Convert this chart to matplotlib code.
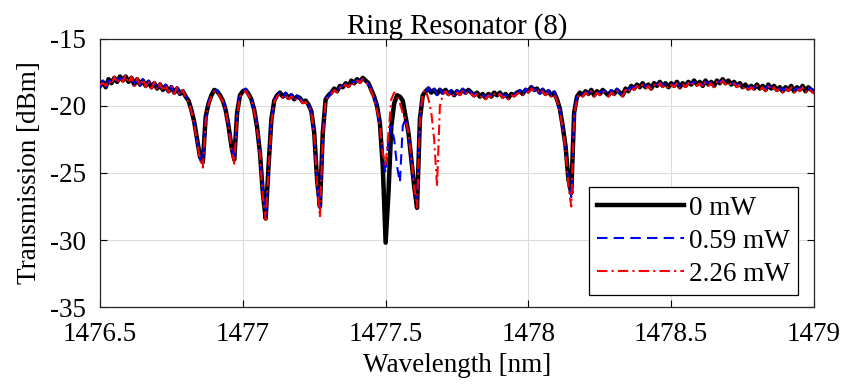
import numpy as np
import matplotlib
matplotlib.use("Agg")
from matplotlib import pyplot as plt

# wavelength grid, 0.01 nm steps
wl = np.round(np.arange(1476.50, 1479.001, 0.01), 2)

# 0 mW
p0 = [
    -18.5, -18.2, -18.6, -18.0, -18.3, -17.9, -18.2, -17.8, -18.1, -17.8,
    -18.2, -17.9, -18.4, -18.0, -18.4, -18.1, -18.5, -18.2, -18.6, -18.3,
    -18.7, -18.4, -18.8, -18.5, -18.9, -18.6, -19.0, -18.7, -19.1, -18.9,
    -19.3, -19.6, -20.3, -21.2, -22.5, -23.8, -24.2, -20.8, -19.8, -19.2,
    -18.8, -18.9, -19.2, -19.6, -20.3, -21.5, -23.0, -24.0, -20.5, -19.2,
    -18.9, -18.8, -19.1, -19.5, -20.3, -21.6, -23.5, -26.5, -28.4, -24.5,
    -21.0, -19.6, -19.2, -19.0, -19.3, -19.1, -19.4, -19.2, -19.5, -19.3,
    -19.4, -19.7, -19.6, -19.9, -20.4, -22.0, -25.5, -27.5, -22.0, -19.5,
    -19.2, -19.0, -18.7, -18.9, -18.5, -18.6, -18.3, -18.5, -18.1, -18.3,
    -18.0, -18.2, -17.9, -18.1, -18.3, -18.8, -19.3, -20.0, -21.3, -24.5,
    -30.2, -26.5, -21.5, -19.8, -19.2, -19.3, -19.6, -20.8, -22.0, -24.0,
    -26.0, -27.6, -21.0, -19.2, -18.9, -18.7, -19.0, -18.8, -19.1, -18.8,
    -19.0, -18.8, -19.1, -18.9, -19.2, -18.9, -19.1, -18.8, -19.0, -18.8,
    -19.0, -19.2, -19.0, -19.3, -19.1, -19.4, -19.1, -19.3, -19.0, -19.2,
    -19.0, -19.3, -19.1, -19.4, -19.1, -19.2, -19.0, -18.9, -19.1, -18.8,
    -18.9, -18.6, -18.8, -18.7, -19.0, -18.8, -19.1, -18.9, -19.2, -19.0,
    -19.5, -20.2, -21.5, -23.0, -25.5, -26.5, -20.5, -19.3, -19.0, -19.2,
    -18.9, -19.1, -18.8, -19.2, -18.9, -19.1, -18.8, -19.0, -19.2, -18.9,
    -19.1, -18.8, -19.0, -19.2, -18.7, -18.9, -18.5, -18.7, -18.4, -18.6,
    -18.3, -18.6, -18.4, -18.7, -18.3, -18.5, -18.2, -18.5, -18.3, -18.6,
    -18.3, -18.5, -18.2, -18.6, -18.3, -18.5, -18.2, -18.4, -18.1, -18.4,
    -18.2, -18.5, -18.1, -18.4, -18.2, -18.5, -18.1, -18.3, -18.0, -18.3,
    -18.1, -18.4, -18.2, -18.5, -18.3, -18.6, -18.4, -18.7, -18.5, -18.7,
    -18.4, -18.7, -18.5, -18.8, -18.4, -18.7, -18.5, -18.8, -18.6, -18.9,
    -18.6, -18.8, -18.5, -18.9, -18.6, -18.8, -18.5, -18.9, -18.6, -18.8,
    -18.9,
]

# 0.59 mW
p059 = [
    -18.6, -18.1, -18.7, -18.1, -18.2, -18.0, -18.1, -17.9, -18.0, -17.9,
    -18.1, -18.0, -18.3, -18.1, -18.5, -18.0, -18.6, -18.1, -18.7, -18.2,
    -18.8, -18.3, -18.9, -18.4, -19.0, -18.5, -19.1, -18.6, -19.2, -18.8,
    -19.3, -19.7, -20.4, -21.3, -22.6, -23.9, -24.3, -20.9, -19.7, -19.1,
    -18.9, -18.8, -19.3, -19.5, -20.4, -21.4, -23.1, -24.1, -20.4, -19.1,
    -19.0, -18.7, -19.2, -19.4, -20.4, -21.5, -23.6, -26.4, -28.2, -24.6,
    -21.1, -19.5, -19.3, -18.9, -19.4, -19.0, -19.5, -19.1, -19.6, -19.2,
    -19.5, -19.6, -19.7, -19.8, -20.5, -22.1, -25.6, -27.7, -22.1, -19.4,
    -19.3, -18.9, -18.8, -18.8, -18.6, -18.5, -18.4, -18.4, -18.2, -18.2,
    -18.1, -18.1, -18.0, -18.0, -18.4, -18.7, -19.4, -20.1, -21.5, -24.0,
    -25.0, -22.5, -21.5, -22.5, -24.5, -25.7, -21.5, -20.9, -22.1, -24.1,
    -26.1, -27.4, -21.1, -19.1, -19.0, -18.6, -19.1, -18.7, -19.2, -18.7,
    -19.1, -18.7, -19.2, -18.8, -19.3, -18.8, -19.2, -18.7, -19.1, -18.7,
    -19.1, -19.1, -19.1, -19.2, -19.2, -19.3, -19.2, -19.2, -19.1, -19.1,
    -19.1, -19.2, -19.2, -19.3, -19.2, -19.1, -19.1, -18.8, -19.2, -18.7,
    -19.0, -18.5, -18.9, -18.6, -19.1, -18.7, -19.2, -18.8, -19.3, -18.9,
    -19.6, -20.3, -21.6, -23.1, -25.6, -26.8, -20.6, -19.2, -19.1, -19.1,
    -19.0, -19.0, -18.9, -19.1, -19.0, -19.0, -18.9, -18.9, -19.3, -18.8,
    -19.2, -18.7, -19.1, -19.1, -18.8, -18.8, -18.6, -18.6, -18.5, -18.5,
    -18.4, -18.5, -18.5, -18.6, -18.4, -18.4, -18.3, -18.4, -18.4, -18.5,
    -18.4, -18.4, -18.3, -18.5, -18.4, -18.4, -18.3, -18.3, -18.2, -18.3,
    -18.3, -18.4, -18.2, -18.3, -18.3, -18.4, -18.2, -18.2, -18.1, -18.2,
    -18.2, -18.3, -18.3, -18.4, -18.4, -18.5, -18.5, -18.6, -18.6, -18.6,
    -18.5, -18.6, -18.6, -18.7, -18.5, -18.6, -18.6, -18.7, -18.7, -18.8,
    -18.7, -18.7, -18.6, -18.8, -18.7, -18.7, -18.6, -18.8, -18.7, -18.7,
    -19.0,
]

# 2.26 mW
p226 = [
    -18.4, -18.3, -18.5, -18.1, -18.4, -17.8, -18.3, -17.9, -18.2, -17.7,
    -18.3, -17.8, -18.5, -17.9, -18.5, -18.0, -18.6, -18.1, -18.7, -18.2,
    -18.8, -18.3, -18.9, -18.4, -19.0, -18.5, -19.1, -18.6, -19.2, -18.8,
    -19.4, -19.7, -20.4, -21.4, -22.7, -24.0, -24.6, -21.0, -19.9, -19.3,
    -18.9, -19.0, -19.3, -19.7, -20.4, -21.6, -23.2, -24.3, -20.7, -19.3,
    -19.0, -18.9, -19.2, -19.6, -20.4, -21.7, -23.7, -26.8, -28.5, -24.8,
    -21.2, -19.7, -19.3, -19.1, -19.4, -19.2, -19.5, -19.3, -19.6, -19.4,
    -19.5, -19.8, -19.7, -20.0, -20.5, -22.2, -25.8, -28.3, -22.3, -19.6,
    -19.3, -19.1, -18.8, -19.0, -18.6, -18.7, -18.4, -18.6, -18.2, -18.4,
    -18.1, -18.3, -18.0, -18.2, -18.4, -18.9, -19.5, -20.3, -21.5, -23.5,
    -24.5, -22.0, -19.5, -19.0, -19.3, -19.8, -20.5, -21.0, -22.0, -24.0,
    -26.0, -27.6, -21.0, -19.0, -18.8, -19.5, -20.5, -22.5, -26.0, -20.0,
    -19.2, -18.9, -19.2, -19.0, -19.3, -19.0, -19.2, -18.9, -19.1, -18.9,
    -19.1, -19.3, -19.1, -19.4, -19.2, -19.5, -19.2, -19.4, -19.1, -19.3,
    -19.1, -19.4, -19.2, -19.5, -19.2, -19.3, -19.1, -19.0, -19.2, -18.9,
    -19.0, -18.7, -18.9, -18.8, -19.1, -18.9, -19.2, -19.0, -19.3, -19.1,
    -19.6, -20.4, -21.7, -23.3, -26.0, -27.5, -20.8, -19.4, -19.1, -19.3,
    -19.0, -19.2, -18.9, -19.3, -19.0, -19.2, -18.9, -19.1, -19.3, -19.0,
    -19.2, -18.9, -19.1, -19.3, -18.8, -19.0, -18.6, -18.8, -18.5, -18.7,
    -18.4, -18.7, -18.5, -18.8, -18.4, -18.6, -18.3, -18.6, -18.4, -18.7,
    -18.4, -18.6, -18.3, -18.7, -18.4, -18.6, -18.3, -18.5, -18.2, -18.5,
    -18.3, -18.6, -18.2, -18.5, -18.3, -18.6, -18.2, -18.4, -18.1, -18.4,
    -18.2, -18.5, -18.3, -18.6, -18.4, -18.7, -18.5, -18.8, -18.6, -18.8,
    -18.5, -18.8, -18.6, -18.9, -18.5, -18.8, -18.6, -18.9, -18.7, -19.0,
    -18.7, -18.9, -18.6, -19.0, -18.7, -18.9, -18.6, -19.0, -18.7, -18.9,
    -19.1,
]

labels = ["0 mW", "0.59 mW", "2.26 mW"]
xticks = [1476.5, 1477, 1477.5, 1478, 1478.5, 1479]
xticklabels = ["1476.5", "1477", "1477.5", "1478", "1478.5", "1479"]
yticks = [-35, -30, -25, -20, -15]

plt.rcParams["font.family"] = ["Liberation Serif", "DejaVu Serif"]
plt.rcParams["font.size"] = 19.5
plt.rcParams["axes.unicode_minus"] = False

fig = plt.figure(figsize=(8.44, 3.91), dpi=100)
ax = fig.add_axes([0.1185, 0.2148, 0.8460, 0.6855])

ax.plot(wl, p0, color="black", lw=3.2, label=labels[0], zorder=3)
ax.plot(wl, p059, color="blue", lw=1.5, ls=(0, (5, 3)), label=labels[1], zorder=4)
ax.plot(wl, p226, color="red", lw=1.5, ls=(0, (5, 2, 1, 2)), label=labels[2], zorder=5)

ax.set_xlim(1476.5, 1479)
ax.set_ylim(-35, -15)
ax.set_xticks(xticks)
ax.set_xticklabels(xticklabels)
ax.set_yticks(yticks)
ax.grid(True, color="#dcdcdc", lw=0.8)
ax.set_axisbelow(True)
ax.tick_params(direction="in", top=True, right=True, length=5, width=0.8)
ax.tick_params(axis="x", pad=11)
ax.tick_params(axis="y", pad=10)
for s in ax.spines.values():
    s.set_linewidth(0.9)
    s.set_color("#262626")

ax.set_title("Ring Resonator (8)", fontsize=20.7, pad=4)
ax.set_xlabel("Wavelength [nm]", labelpad=4)
ax.set_ylabel("Transmission [dBm]", labelpad=6)

leg = ax.legend(loc="lower right", handlelength=3.2, fancybox=False,
                edgecolor="black", framealpha=1, borderpad=0.3,
                labelspacing=0.3, handletextpad=0.2, borderaxespad=0,
                bbox_to_anchor=(0.978, 0.045))
leg.get_frame().set_linewidth(0.9)

fig.savefig("out.png", dpi=100)
